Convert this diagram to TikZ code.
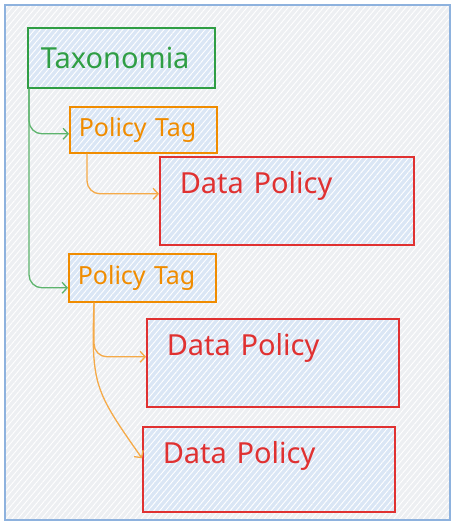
\documentclass[tikz,border=0pt]{standalone}
\usepackage{fontspec}
\setmainfont{Noto Sans}
\usepackage{tikz}
\usetikzlibrary{positioning, arrows.meta, patterns.meta}

\definecolor{frameblue}{HTML}{8EB2DE}
\definecolor{framegray}{HTML}{EDEFF2}
\definecolor{boxblue}{HTML}{DAE6F5}
\definecolor{taxgreen}{HTML}{2F9E44}
\definecolor{linkgreen}{HTML}{5DB46D}
\definecolor{tagorange}{HTML}{F08C00}
\definecolor{linkorange}{HTML}{F5AA48}
\definecolor{polred}{HTML}{E03131}

\begin{document}
\begin{tikzpicture}
[x=1pt, y=1pt,
hatch/.style={preaction={fill=#1}, pattern={Lines[angle=50, distance=4.5pt, line width=0.9pt]}, pattern color=white},
frame/.style={hatch=framegray, draw=frameblue, line width=1.6pt},
box/.style={rectangle, hatch=boxblue, anchor=north west, align=left, line width=1.6pt, inner ysep=0pt},
taxbox/.style={box, draw=taxgreen, text=taxgreen, font=\fontsize{29}{32}\selectfont, inner xsep=13pt, text width=161pt, minimum height=60pt},
tagbox/.style={box, draw=tagorange, text=tagorange, font=\fontsize{25}{28}\selectfont, inner xsep=9pt, text width=129pt, minimum height=46pt},
policybox/.style={box, draw=polred, text=polred, font=\fontsize{29}{32}\selectfont, inner xsep=20pt, text width=212pt, text height=37pt, text depth=51pt},
taxlink/.style={draw=linkgreen, line width=1.3pt, rounded corners=13pt, -{Straight Barb[length=5pt, width=11pt]}},
taglink/.style={draw=linkorange, line width=1.3pt, rounded corners=13pt, -{Straight Barb[length=5pt, width=11pt]}},
]

\useasboundingbox (0,0) rectangle (455,-526);
\draw[frame] (5,-5) rectangle (450,-520);

\node (tax) [taxbox] at (27,-27) {Taxonomia};
\node (tag1) [tagbox] at (69,-106) {Policy Tag};
\node (pol1) [policybox, text width=214pt] at (159,-156) {Data Policy};
\node (tag2) [tagbox, minimum height=48pt] at (68,-253) {Policy Tag};
\node (pol2) [policybox] at (146,-318) {Data Policy};
\node (pol3) [policybox, text depth=48pt] at (142,-426) {Data Policy};

% taxonomia -> tags
\draw[taxlink] ([xshift=2pt]tax.south west) |- ([yshift=-4pt]tag1.west);
\draw[taxlink] ([xshift=2pt]tax.south west) |- ([yshift=-10pt]tag2.west);

% tags -> data policies
\draw[taglink] ([xshift=18pt]tag1.south west) |- ([yshift=7pt]pol1.west);
\draw[taglink] ([xshift=26pt]tag2.south west) |- ([yshift=6pt]pol2.west);
\draw[taglink] ([xshift=26pt]tag2.south west) to[out=-92, in=125, looseness=1.3] ([yshift=11pt]pol3.west);
\end{tikzpicture}
\end{document}
